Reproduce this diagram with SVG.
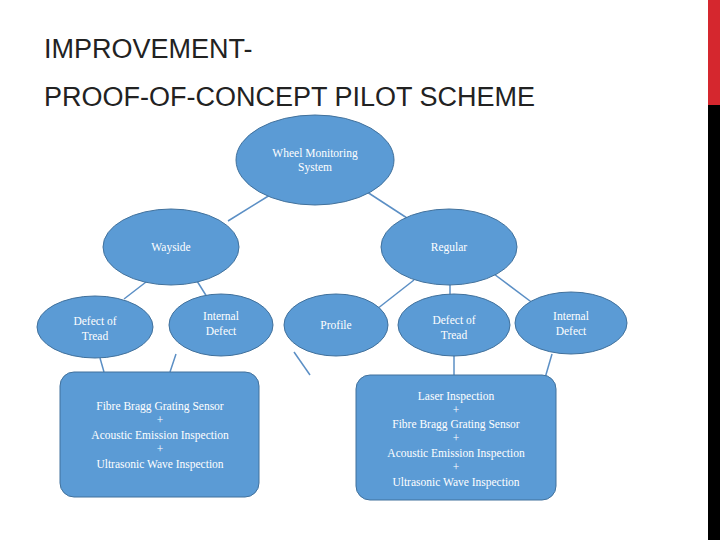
<svg xmlns="http://www.w3.org/2000/svg" width="720" height="540" viewBox="0 0 720 540">
<style>
.n{fill:#5b9bd5;stroke:#41719c;stroke-width:1}
.t{fill:#fff;font-family:"Liberation Serif",serif;font-size:11.5px;text-anchor:middle}
.c line{stroke:#5b8fc5;stroke-width:1.5}
.h{font-family:"Liberation Sans",sans-serif;font-size:27px;fill:#222}
</style>
<rect width="720" height="540" fill="#fff"/>
<rect x="708" y="0" width="12" height="105" fill="#d5272e"/>
<rect x="708" y="105" width="12" height="435" fill="#000"/>
<text class="h" x="44" y="58">IMPROVEMENT-</text>
<text class="h" x="44" y="106">PROOF-OF-CONCEPT PILOT SCHEME</text>
<g class="c">
<line x1="270" y1="195" x2="228" y2="221"/>
<line x1="364" y1="190" x2="407" y2="218"/>
<line x1="146" y1="282" x2="124" y2="299"/>
<line x1="197" y1="281" x2="207" y2="297"/>
<line x1="414" y1="280" x2="377" y2="309"/>
<line x1="450" y1="285" x2="450" y2="295"/>
<line x1="494" y1="274" x2="534" y2="304"/>
<line x1="100" y1="358" x2="104" y2="372"/>
<line x1="176" y1="354" x2="170" y2="372"/>
<line x1="294" y1="352" x2="310" y2="375"/>
<line x1="454" y1="356" x2="454" y2="375"/>
<line x1="552" y1="354" x2="545" y2="378"/>
</g>
<g id="wms"><ellipse class="n" cx="315" cy="160" rx="79" ry="45"/><text class="t" x="315" y="157">Wheel Monitoring</text><text class="t" x="315" y="171">System</text></g>
<g id="wayside"><ellipse class="n" cx="171" cy="247" rx="68" ry="38"/><text class="t" x="171" y="251">Wayside</text></g>
<g id="regular"><ellipse class="n" cx="449" cy="247" rx="68" ry="38"/><text class="t" x="449" y="251">Regular</text></g>
<g id="dtl"><ellipse class="n" cx="95" cy="327" rx="58" ry="31"/><text class="t" x="95" y="325">Defect of</text><text class="t" x="95" y="340">Tread</text></g>
<g id="idl"><ellipse class="n" cx="221" cy="325" rx="52" ry="31"/><text class="t" x="221" y="320">Internal</text><text class="t" x="221" y="335">Defect</text></g>
<g id="profile"><ellipse class="n" cx="336" cy="325" rx="52" ry="31"/><text class="t" x="336" y="329">Profile</text></g>
<g id="dtr"><ellipse class="n" cx="454" cy="325" rx="56" ry="31"/><text class="t" x="454" y="324">Defect of</text><text class="t" x="454" y="339">Tread</text></g>
<g id="idr"><ellipse class="n" cx="571" cy="323" rx="56" ry="31"/><text class="t" x="571" y="320">Internal</text><text class="t" x="571" y="335">Defect</text></g>
<g id="boxl"><rect class="n" x="60" y="372" width="199" height="125" rx="14"/>
<text class="t" x="160" y="410">Fibre Bragg Grating Sensor</text><text class="t" x="160" y="424">+</text><text class="t" x="160" y="439">Acoustic Emission Inspection</text><text class="t" x="160" y="453">+</text><text class="t" x="160" y="468">Ultrasonic Wave Inspection</text></g>
<g id="boxr"><rect class="n" x="356" y="375" width="200" height="125" rx="14"/>
<text class="t" x="456" y="400">Laser Inspection</text><text class="t" x="456" y="414">+</text><text class="t" x="456" y="428">Fibre Bragg Grating Sensor</text><text class="t" x="456" y="442">+</text><text class="t" x="456" y="457">Acoustic Emission Inspection</text><text class="t" x="456" y="471">+</text><text class="t" x="456" y="486">Ultrasonic Wave Inspection</text></g>
</svg>
